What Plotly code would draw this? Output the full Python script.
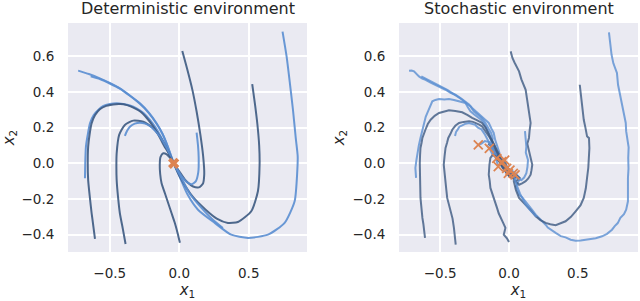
import plotly.graph_objects as go

# ---------------- data: deterministic environment ----------------
det_a_x = [0.743, 0.772, 0.796, 0.818, 0.838, 0.852, 0.849, 0.83, 0.758, 0.638, 0.494, 0.374, 0.255, 0.135, 0.06, 0.0, -0.04]
det_a_y = [0.738, 0.60, 0.448, 0.30, 0.142, 0.04, -0.045, -0.213, -0.334, -0.40, -0.418, -0.40, -0.334, -0.26, -0.175, -0.07, 0.0]
det_b_x = [0.525, 0.545, 0.562, 0.575, 0.578, 0.566, 0.518, 0.422, 0.35, 0.27, 0.19, 0.10, 0.005, -0.04]
det_b_y = [0.443, 0.33, 0.22, 0.10, -0.008, -0.157, -0.269, -0.329, -0.334, -0.31, -0.26, -0.19, -0.075, 0.0]
det_c_x = [0.022, 0.06, 0.095, 0.125, 0.152, 0.172, 0.18, 0.17, 0.14, 0.10, 0.045, 0.0, -0.04]
det_c_y = [0.629, 0.52, 0.41, 0.29, 0.16, 0.04, -0.06, -0.115, -0.135, -0.13, -0.095, -0.045, 0.0]
det_d_x = [0.125, 0.135, 0.14, 0.137, 0.12, 0.09, 0.055, 0.015, -0.04]
det_d_y = [0.172, 0.10, 0.03, -0.05, -0.10, -0.118, -0.105, -0.07, 0.0]
det_e_x = [-0.727, -0.65, -0.571, -0.50, -0.427, -0.355, -0.283, -0.22, -0.163, -0.12, -0.091, -0.04]
det_e_y = [0.519, 0.50, 0.476, 0.45, 0.42, 0.38, 0.336, 0.285, 0.224, 0.165, 0.112, 0.0]
det_f_x = [-0.637, -0.571, -0.50, -0.427, -0.355, -0.283, -0.22, -0.163, -0.12, -0.091, -0.04]
det_f_y = [0.487, 0.472, 0.447, 0.418, 0.378, 0.333, 0.283, 0.222, 0.164, 0.11, 0.0]
det_g_x = [-0.678, -0.676, -0.671, -0.658, -0.642, -0.615, -0.583, -0.545, -0.499, -0.45, -0.403, -0.355, -0.307, -0.255, -0.211, -0.17, -0.139, -0.10, -0.079, -0.04]
det_g_y = [-0.084, 0.0, 0.093, 0.16, 0.224, 0.27, 0.299, 0.322, 0.332, 0.336, 0.332, 0.324, 0.308, 0.28, 0.243, 0.20, 0.159, 0.10, 0.065, 0.0]
det_h_x = [-0.606, -0.618, -0.63, -0.643, -0.655, -0.658, -0.655, -0.645, -0.63, -0.605, -0.571, -0.525, -0.475, -0.425, -0.375, -0.33, -0.28, -0.235, -0.19, -0.15, -0.11, -0.075, -0.04]
det_h_y = [-0.424, -0.35, -0.28, -0.19, -0.094, 0.0, 0.093, 0.16, 0.224, 0.27, 0.303, 0.322, 0.33, 0.332, 0.326, 0.312, 0.29, 0.255, 0.21, 0.16, 0.10, 0.055, 0.0]
det_i_x = [-0.386, -0.405, -0.427, -0.44, -0.45, -0.452, -0.45, -0.432, -0.391, -0.331, -0.259, -0.187, -0.115, -0.075, -0.04]
det_i_y = [-0.452, -0.37, -0.28, -0.19, -0.094, -0.02, 0.056, 0.159, 0.215, 0.239, 0.233, 0.196, 0.121, 0.06, 0.0]
det_j_x = [-0.391, -0.375, -0.355, -0.32, -0.283, -0.245, -0.211, -0.175, -0.139, -0.09, -0.04]
det_j_y = [0.153, 0.182, 0.205, 0.222, 0.227, 0.222, 0.209, 0.183, 0.149, 0.085, 0.0]
det_k_x = [0.005, -0.012, -0.031, -0.055, -0.079, -0.103, -0.127, -0.137, -0.14, -0.135, -0.115, -0.09, -0.065, -0.04]
det_k_y = [-0.445, -0.39, -0.336, -0.28, -0.224, -0.168, -0.112, -0.06, -0.01, 0.035, 0.056, 0.05, 0.03, 0.0]
det_l_x = [0.314, 0.24, 0.16, 0.08, 0.01, -0.04]
det_l_y = [-0.363, -0.315, -0.25, -0.175, -0.075, 0.0]
det_end_x = [-0.04]
det_end_y = [0.0]

# ---------------- data: stochastic environment ----------------
sto_a_x = [0.726, 0.733, 0.745, 0.758, 0.771, 0.784, 0.792, 0.809, 0.818, 0.833, 0.848, 0.851, 0.857, 0.869, 0.866, 0.868, 0.864, 0.866, 0.864, 0.851, 0.835, 0.809, 0.79, 0.768, 0.748, 0.712, 0.676, 0.63, 0.595, 0.557, 0.52, 0.484, 0.448, 0.411, 0.376, 0.339, 0.305, 0.282, 0.266, 0.23, 0.194, 0.165, 0.121, 0.095, 0.073, 0.05, 0.07, 0.08, 0.05, 0.02, 0.035, 0.06, 0.044]
sto_a_y = [0.734, 0.67, 0.608, 0.56, 0.53, 0.506, 0.44, 0.375, 0.32, 0.263, 0.226, 0.18, 0.142, 0.09, 0.03, -0.03, -0.082, -0.15, -0.213, -0.26, -0.285, -0.306, -0.335, -0.352, -0.372, -0.395, -0.409, -0.42, -0.425, -0.428, -0.432, -0.434, -0.428, -0.415, -0.408, -0.39, -0.372, -0.36, -0.344, -0.318, -0.288, -0.258, -0.213, -0.19, -0.176, -0.13, -0.10, -0.085, -0.06, -0.04, -0.07, -0.08, -0.065]
sto_b_x = [0.514, 0.52, 0.531, 0.536, 0.543, 0.555, 0.567, 0.575, 0.581, 0.584, 0.581, 0.576, 0.567, 0.558, 0.543, 0.52, 0.484, 0.45, 0.411, 0.375, 0.339, 0.30, 0.266, 0.228, 0.194, 0.16, 0.121, 0.095, 0.073, 0.05, 0.035, 0.06, 0.075, 0.05, 0.0, -0.04, -0.08, -0.11, -0.09, -0.05, -0.01, 0.019]
sto_b_y = [0.44, 0.39, 0.338, 0.29, 0.244, 0.2, 0.151, 0.145, 0.142, 0.085, 0.03, -0.025, -0.082, -0.14, -0.194, -0.235, -0.269, -0.30, -0.325, -0.338, -0.347, -0.342, -0.334, -0.318, -0.297, -0.265, -0.232, -0.21, -0.194, -0.15, -0.1, -0.095, -0.08, -0.065, -0.07, -0.03, 0.02, 0.06, 0.05, 0.0, -0.03, -0.056]
sto_c_x = [0.012, 0.025, 0.04, 0.055, 0.073, 0.09, 0.108, 0.121, 0.132, 0.145, 0.152, 0.157, 0.15, 0.145, 0.133, 0.145, 0.157, 0.165, 0.169, 0.163, 0.157, 0.14, 0.121, 0.095, 0.073, 0.045, 0.02, 0.0, -0.04, -0.08, -0.12, -0.15, -0.12, -0.09, -0.05, -0.03, -0.017]
sto_c_y = [0.627, 0.59, 0.565, 0.54, 0.515, 0.47, 0.44, 0.412, 0.355, 0.30, 0.26, 0.226, 0.185, 0.142, 0.11, 0.067, 0.035, 0.01, -0.008, -0.04, -0.064, -0.085, -0.1, -0.112, -0.12, -0.1, -0.07, -0.045, 0.0, 0.05, 0.09, 0.11, 0.1, 0.06, 0.02, -0.01, -0.028]
sto_d_x = [0.116, 0.12, 0.126, 0.122, 0.131, 0.138, 0.134, 0.126, 0.11, 0.09, 0.07, 0.056, 0.03, 0.0, -0.029, 0.007]
sto_d_y = [0.18, 0.14, 0.093, 0.06, 0.04, 0.018, -0.02, -0.056, -0.08, -0.094, -0.09, -0.075, -0.06, -0.05, -0.047, -0.038]
sto_e_x = [-0.726, -0.708, -0.69, -0.672, -0.654, -0.63, -0.606, -0.57, -0.533, -0.497, -0.461, -0.425, -0.389, -0.352, -0.316, -0.29, -0.268, -0.238, -0.208, -0.178, -0.147, -0.128, -0.111, -0.1, -0.085, -0.07, -0.09, -0.115, -0.13, -0.143]
sto_e_y = [0.519, 0.52, 0.515, 0.5, 0.487, 0.475, 0.468, 0.452, 0.44, 0.428, 0.412, 0.395, 0.384, 0.365, 0.347, 0.33, 0.31, 0.29, 0.272, 0.25, 0.226, 0.195, 0.17, 0.13, 0.095, 0.06, 0.05, 0.07, 0.09, 0.084]
sto_f_x = [-0.637, -0.61, -0.585, -0.55, -0.515, -0.48, -0.445, -0.41, -0.375, -0.34, -0.31, -0.28, -0.255, -0.228, -0.2, -0.175, -0.15, -0.13, -0.118, -0.125, -0.15, -0.175, -0.2, -0.223]
sto_f_y = [0.487, 0.476, 0.47, 0.455, 0.44, 0.425, 0.41, 0.392, 0.376, 0.356, 0.335, 0.318, 0.29, 0.27, 0.255, 0.23, 0.2, 0.17, 0.14, 0.115, 0.12, 0.125, 0.11, 0.103]
sto_g_x = [-0.675, -0.678, -0.68, -0.672, -0.665, -0.655, -0.643, -0.635, -0.625, -0.617, -0.605, -0.593, -0.575, -0.557, -0.535, -0.508, -0.47, -0.436, -0.4, -0.363, -0.335, -0.316, -0.3, -0.28, -0.255, -0.232, -0.205, -0.184, -0.165, -0.147, -0.13, -0.12, -0.105, -0.12, -0.14, -0.16, -0.13, -0.1, -0.089]
sto_g_y = [-0.082, -0.05, -0.026, 0.02, 0.06, 0.1, 0.142, 0.17, 0.2, 0.226, 0.26, 0.282, 0.31, 0.347, 0.355, 0.36, 0.358, 0.36, 0.355, 0.347, 0.343, 0.338, 0.315, 0.291, 0.275, 0.263, 0.245, 0.226, 0.2, 0.17, 0.13, 0.09, 0.06, 0.05, 0.08, 0.1, 0.07, 0.04, 0.028]
sto_h_x = [-0.61, -0.615, -0.622, -0.629, -0.636, -0.643, -0.645, -0.65, -0.648, -0.646, -0.643, -0.635, -0.629, -0.607, -0.59, -0.569, -0.54, -0.508, -0.47, -0.436, -0.39, -0.34, -0.3, -0.268, -0.23, -0.196, -0.17, -0.15, -0.13, -0.105, -0.08, -0.06, -0.04, -0.02, 0.0, -0.03, -0.06, -0.053]
sto_h_y = [-0.418, -0.37, -0.34, -0.306, -0.25, -0.194, -0.12, -0.045, 0.0, 0.045, 0.086, 0.115, 0.142, 0.188, 0.22, 0.244, 0.266, 0.282, 0.29, 0.297, 0.293, 0.286, 0.27, 0.254, 0.24, 0.226, 0.2, 0.17, 0.14, 0.1, 0.05, 0.02, -0.02, -0.05, -0.07, -0.04, -0.01, 0.009]
sto_i_x = [-0.387, -0.392, -0.4, -0.41, -0.425, -0.438, -0.449, -0.455, -0.461, -0.47, -0.474, -0.468, -0.461, -0.45, -0.441, -0.425, -0.412, -0.39, -0.363, -0.33, -0.29, -0.262, -0.242, -0.22, -0.196, -0.17, -0.145, -0.12, -0.1, -0.08, -0.06, -0.07, -0.05, -0.02, 0.01, 0.03, 0.0, -0.02, -0.031]
sto_i_y = [-0.456, -0.41, -0.362, -0.31, -0.269, -0.23, -0.194, -0.15, -0.1, -0.05, -0.008, 0.04, 0.086, 0.115, 0.142, 0.165, 0.188, 0.21, 0.226, 0.232, 0.235, 0.232, 0.226, 0.218, 0.207, 0.18, 0.15, 0.12, 0.09, 0.06, 0.04, 0.02, -0.01, -0.04, -0.06, -0.08, -0.05, -0.01, 0.018]
sto_j_x = [-0.392, -0.385, -0.372, -0.36, -0.34, -0.315, -0.29, -0.265, -0.245, -0.225, -0.2, -0.178, -0.16, -0.14, -0.12, -0.1, -0.085, -0.078]
sto_j_y = [0.153, 0.175, 0.19, 0.205, 0.212, 0.222, 0.226, 0.218, 0.215, 0.2, 0.19, 0.165, 0.14, 0.11, 0.07, 0.04, 0.0, -0.019]
sto_k_x = [0.0, -0.015, -0.038, -0.026, -0.045, -0.062, -0.075, -0.087, -0.1, -0.111, -0.122, -0.135, -0.14, -0.147, -0.142, -0.135, -0.12, -0.1, -0.085, -0.06, -0.04, -0.02, 0.0, 0.02, 0.05, 0.03, 0.0, -0.005]
sto_k_y = [-0.441, -0.42, -0.4, -0.362, -0.33, -0.306, -0.28, -0.25, -0.22, -0.194, -0.165, -0.138, -0.1, -0.064, -0.008, 0.03, 0.045, 0.04, 0.02, 0.0, -0.01, -0.02, -0.03, -0.05, -0.08, -0.085, -0.07, -0.056]
sto_l_x = [0.2, 0.175, 0.15, 0.12, 0.1, 0.08, 0.06, 0.045, 0.031]
sto_l_y = [-0.30, -0.28, -0.26, -0.23, -0.2, -0.17, -0.13, -0.1, -0.056]
sto_end_x = [-0.223, -0.143, -0.089, -0.053, -0.031, -0.078, -0.017, 0.007, -0.005, 0.031, 0.044]
sto_end_y = [0.103, 0.084, 0.028, 0.009, 0.018, -0.019, -0.028, -0.038, -0.056, -0.056, -0.065]

# tick labels
x_tick_vals = [-0.5, 0.0, 0.5]
x_tick_text = ["\u22120.5", "0.0", "0.5"]
y_tick_vals = [-0.4, -0.2, 0.0, 0.2, 0.4, 0.6]
y_tick_text = ["\u22120.4", "\u22120.2", "0.0", "0.2", "0.4", "0.6"]

DARK = "#3d5a82"
LIGHT = "#5b8fd2"
ORANGE = "#dd8452"

det_lines = [
    (det_a_x, det_a_y, LIGHT), (det_b_x, det_b_y, DARK), (det_c_x, det_c_y, DARK),
    (det_d_x, det_d_y, LIGHT), (det_e_x, det_e_y, LIGHT), (det_f_x, det_f_y, LIGHT),
    (det_g_x, det_g_y, LIGHT), (det_h_x, det_h_y, DARK), (det_i_x, det_i_y, DARK),
    (det_j_x, det_j_y, LIGHT), (det_k_x, det_k_y, DARK), (det_l_x, det_l_y, LIGHT),
]
sto_lines = [
    (sto_a_x, sto_a_y, LIGHT), (sto_b_x, sto_b_y, DARK), (sto_c_x, sto_c_y, DARK),
    (sto_d_x, sto_d_y, LIGHT), (sto_e_x, sto_e_y, LIGHT), (sto_f_x, sto_f_y, LIGHT),
    (sto_g_x, sto_g_y, LIGHT), (sto_h_x, sto_h_y, DARK), (sto_i_x, sto_i_y, DARK),
    (sto_j_x, sto_j_y, LIGHT), (sto_k_x, sto_k_y, DARK), (sto_l_x, sto_l_y, LIGHT),
]

fig = go.Figure()
for xs, ys, c in det_lines:
    fig.add_trace(go.Scatter(x=xs, y=ys, mode="lines", line=dict(color=c, width=2, shape="spline", smoothing=0.6),
                             opacity=0.9, xaxis="x", yaxis="y", showlegend=False, hoverinfo="skip"))
for xs, ys, c in sto_lines:
    fig.add_trace(go.Scatter(x=xs, y=ys, mode="lines", line=dict(color=c, width=2),
                             opacity=0.8, xaxis="x2", yaxis="y2", showlegend=False, hoverinfo="skip"))
fig.add_trace(go.Scatter(x=det_end_x, y=det_end_y, mode="markers",
                         marker=dict(symbol="x", size=10, color=ORANGE, line=dict(width=0)),
                         xaxis="x", yaxis="y", showlegend=False, hoverinfo="skip"))
fig.add_trace(go.Scatter(x=sto_end_x, y=sto_end_y, mode="markers",
                         marker=dict(symbol="x-thin", size=9, color=ORANGE, line=dict(width=1.8, color=ORANGE)),
                         xaxis="x2", yaxis="y2", showlegend=False, hoverinfo="skip"))

FONT = "DejaVu Sans"
TXT = "#262626"
common_x = dict(tickvals=x_tick_vals, ticktext=x_tick_text, showgrid=True, gridcolor="white", gridwidth=1.5,
                zeroline=False, showline=False, ticks="outside", ticklen=9, tickcolor="rgba(0,0,0,0)",
                automargin=False,
                tickfont=dict(family=FONT, size=13.5, color=TXT),
                title=dict(text="<i>x</i><sub>1</sub>", font=dict(family=FONT, size=15, color=TXT), standoff=2))
common_y = dict(tickvals=y_tick_vals, ticktext=y_tick_text, showgrid=True, gridcolor="white", gridwidth=1.5,
                zeroline=False, showline=False, ticks="outside", ticklen=10, tickcolor="rgba(0,0,0,0)",
                automargin=False,
                tickfont=dict(family=FONT, size=13.5, color=TXT), range=[-0.497, 0.786],
                title=dict(text="<i>x</i><sub>2</sub>", font=dict(family=FONT, size=15, color=TXT), standoff=4))

fig.update_layout(
    width=640, height=301, margin=dict(l=0, r=0, t=0, b=0),
    paper_bgcolor="white", plot_bgcolor="#eaeaf2",
    xaxis=dict(domain=[68/640, 307/640], range=[-0.80, 0.919], anchor="y", **common_x),
    yaxis=dict(domain=[1-252/301, 1-23/301], anchor="x", **common_y),
    xaxis2=dict(domain=[399/640, 638/640], range=[-0.799, 0.937], anchor="y2", **common_x),
    yaxis2=dict(domain=[1-252/301, 1-23/301], anchor="x2", **common_y),
    annotations=[
        dict(text="Deterministic environment", x=(68+307)/2/640, y=1-9/301, xref="paper", yref="paper",
             showarrow=False, font=dict(family=FONT, size=16, color=TXT), xanchor="center", yanchor="middle"),
        dict(text="Stochastic environment", x=(399+638)/2/640, y=1-9/301, xref="paper", yref="paper",
             showarrow=False, font=dict(family=FONT, size=16, color=TXT), xanchor="center", yanchor="middle"),
    ],
)
fig.write_html("out.html", config={"displayModeBar": False},
               post_script="document.body.style.margin='0px';document.body.style.overflow='hidden';")
